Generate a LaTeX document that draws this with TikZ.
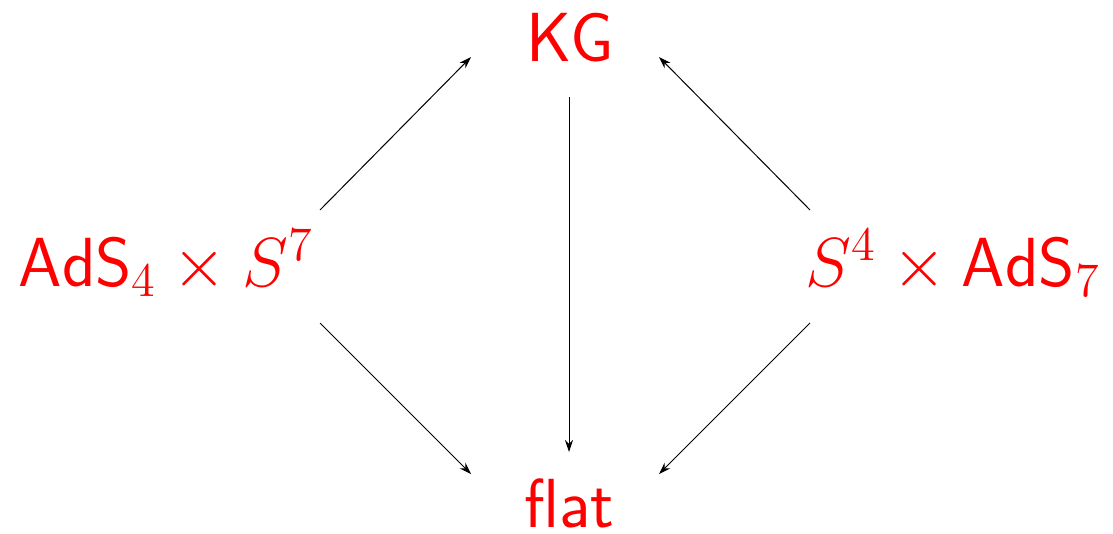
\documentclass[tikz,border=0pt]{standalone}
\usetikzlibrary{arrows.meta}
\begin{document}
\begin{tikzpicture}[x=1pt,y=-1pt,
  lbl/.style={text=red,font=\huge\sffamily,anchor=base,inner sep=0pt,scale=3.35,transform shape},
  conn/.style={line width=1pt,-{Stealth[length=12pt,width=8pt]}}]
\useasboundingbox (0,0) rectangle (1113,533);
\node[lbl] (KG) at (570,61) {KG};
\node[lbl] (flat) at (569,527) {flat};
\node[lbl] (L) at (166,286) {$\mathsf{AdS}_4\times S^7$};
\node[lbl] (R) at (953,286) {$S^4\times\mathsf{AdS}_7$};
\coordinate (Lu) at (320,210);
\coordinate (Ld) at (320,323);
\coordinate (Ru) at (810,210);
\coordinate (Rd) at (810,323);
\coordinate (KGb) at (569,97);
\coordinate (KGl) at (471,57);
\coordinate (KGr) at (659,57);
\coordinate (flt) at (569,452);
\coordinate (fll) at (471,474);
\coordinate (flr) at (659,474);
\draw[conn] (Lu) -- (KGl);
\draw[conn] (Ld) -- (fll);
\draw[conn] (KGb) -- (flt);
\draw[conn] (Ru) -- (KGr);
\draw[conn] (Rd) -- (flr);
\end{tikzpicture}
\end{document}
